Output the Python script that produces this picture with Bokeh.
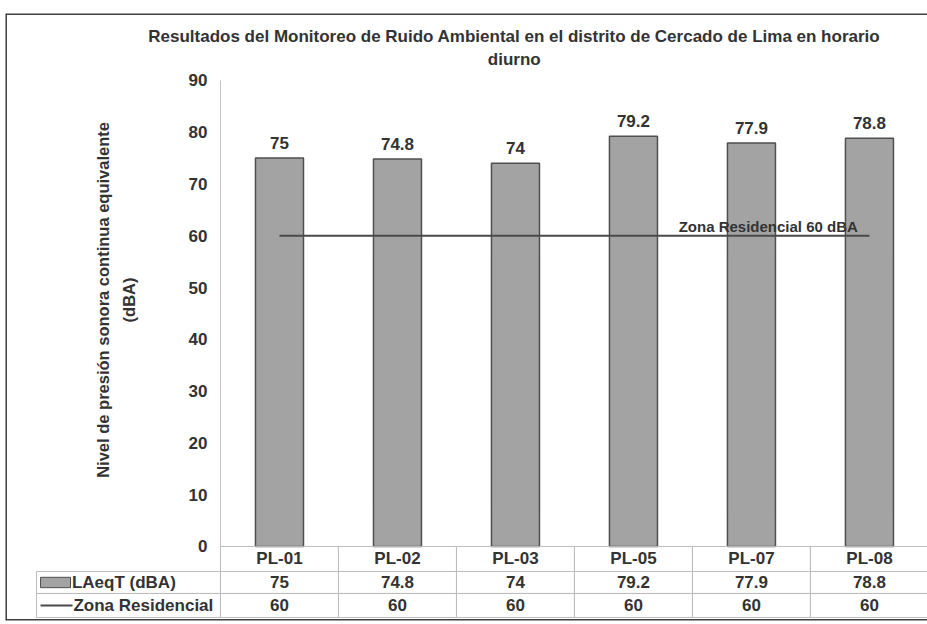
import math
from bokeh.plotting import figure
from bokeh.models import Range1d, LinearAxis, FixedTicker, ColumnDataSource, Span
from bokeh.core.properties import value
from bokeh.embed import file_html
from bokeh.resources import INLINE

# ---------------- data ----------------
categories = ["PL-01", "PL-02", "PL-03", "PL-05", "PL-07", "PL-08"]
laeq_values = [75, 74.8, 74, 79.2, 77.9, 78.8]
zona_values = [60, 60, 60, 60, 60, 60]
y_ticks = [0, 10, 20, 30, 40, 50, 60, 70, 80, 90]
series_names = ["LAeqT (dBA)", "Zona Residencial"]
title_text = ("Resultados del Monitoreo de Ruido Ambiental en el distrito de "
              "Cercado de Lima en horario\ndiurno")
y_title = "Nivel de presión sonora continua equivalente\n(dBA)"

# ---------------- style ----------------
FONT = "Liberation Sans"
TXT = "#333333"
BAR_FILL = "#a3a3a3"
BAR_LINE = "#4f4f4f"
CELL_LINE = "#bdbdbd"
BORDER = "#404040"


def fmt(v):
    return f"{v:g}"


n = len(categories)
xc = [i + 0.5 for i in range(n)]

# table layout (in y data units below the zero line)
row_edges = [0, -4.83, -9.07, -13.71]
row_mid = [(row_edges[k] + row_edges[k + 1]) / 2 for k in range(3)]
legend_left = -1.559

xr = Range1d(-1.822, 5.992)
yr = Range1d(-14.29, 102.9)
p = figure(width=927, height=624, output_backend="svg", toolbar_location=None,
           x_range=xr, y_range=yr,
           min_border_left=5, min_border_right=0, min_border_top=13,
           min_border_bottom=4, x_axis_type=None, y_axis_type=None)
p.outline_line_color = None
p.background_fill_color = "white"
p.border_fill_color = "white"

# chart border (left, top, bottom; the right side is cut off in the source)
p.add_layout(Span(location=xr.start, dimension="height", line_color=BORDER,
                  line_width=3))
p.add_layout(Span(location=yr.end, dimension="width", line_color=BORDER,
                  line_width=3))
p.add_layout(Span(location=yr.start, dimension="width", line_color=BORDER,
                  line_width=3))

# y axis placed at the left boundary of the category area
yaxis = LinearAxis(fixed_location=0, bounds=(0, 90),
                   ticker=FixedTicker(ticks=y_ticks))
yaxis.axis_line_color = "#c4c4c4"
yaxis.axis_line_width = 1
yaxis.major_tick_line_color = None
yaxis.minor_tick_line_color = None
yaxis.major_tick_out = 0
yaxis.major_tick_in = 0
yaxis.major_label_standoff = 13
yaxis.major_label_text_font = FONT
yaxis.major_label_text_font_style = "bold"
yaxis.major_label_text_font_size = "17px"
yaxis.major_label_text_color = TXT
p.add_layout(yaxis, "left")

# y axis title
p.text(x=[-0.886], y=[47.6], text=[y_title], angle=math.pi / 2,
       text_align="center", text_baseline="middle", text_font=value(FONT),
       text_font_style="bold", text_font_size="16.5px", text_color=TXT,
       text_line_height=1.45)

src = ColumnDataSource(dict(
    x=xc, cat=categories, top=laeq_values, zona=zona_values,
    lab=[fmt(v) for v in laeq_values],
    zlab=[fmt(v) for v in zona_values],
))

# bars
p.vbar(x="x", top="top", bottom=0, width=0.407, fill_color=BAR_FILL,
       line_color=BAR_LINE, line_width=1.5, source=src)
p.text(x="x", y="top", text="lab", y_offset=-15, text_align="center",
       text_baseline="middle", text_font=value(FONT), text_font_style="bold",
       text_font_size="17px", text_color=TXT, source=src)

# reference line
p.line(x="x", y="zona", line_color="#4a4a4a", line_width=2, source=src)
p.text(x=[4.66], y=[zona_values[-1]],
       text=[f"{series_names[1]}  {fmt(zona_values[-1])} dBA"],
       y_offset=-9, text_align="center", text_baseline="middle",
       text_font=value(FONT), text_font_style="bold", text_font_size="15px",
       text_color=TXT)

# title
p.text(x=[2.49], y=[96.2], text=[title_text], text_align="center",
       text_baseline="middle", text_font=value(FONT), text_font_style="bold",
       text_font_size="17px", text_color=TXT, text_line_height=1.18)

# data table cells
lefts, rights, tops, bottoms = [], [], [], []
for k in range(3):
    for i in range(n):
        lefts.append(i)
        rights.append(i + 1)
        tops.append(row_edges[k])
        bottoms.append(row_edges[k + 1])
    if k > 0:
        lefts.append(legend_left)
        rights.append(0)
        tops.append(row_edges[k])
        bottoms.append(row_edges[k + 1])
p.quad(left=lefts, right=rights, top=tops, bottom=bottoms, fill_color=None,
       line_color=CELL_LINE, line_width=1)

tab_style = dict(text_font=value(FONT), text_font_style="bold",
                 text_font_size="17px", text_color=TXT, text_baseline="middle")
p.text(x="x", y=row_mid[0], text="cat", text_align="center", source=src,
       **tab_style)
p.text(x="x", y=row_mid[1], text="lab", text_align="center", source=src,
       **tab_style)
p.text(x="x", y=row_mid[2], text="zlab", text_align="center", source=src,
       **tab_style)

# legend keys in the table
p.quad(left=[legend_left + 0.034], right=[legend_left + 0.288],
       top=[row_mid[1] + 1.0], bottom=[row_mid[1] - 1.0],
       fill_color=BAR_FILL, line_color=BAR_LINE, line_width=1)
p.segment(x0=[legend_left + 0.034], x1=[legend_left + 0.305],
          y0=[row_mid[2]], y1=[row_mid[2]], line_color="#4a4a4a",
          line_width=2)
p.text(x=[legend_left + 0.300, legend_left + 0.313],
       y=[row_mid[1], row_mid[2]], text=series_names, text_align="left",
       **tab_style)

open("out.html", "w").write(file_html(p, INLINE))
